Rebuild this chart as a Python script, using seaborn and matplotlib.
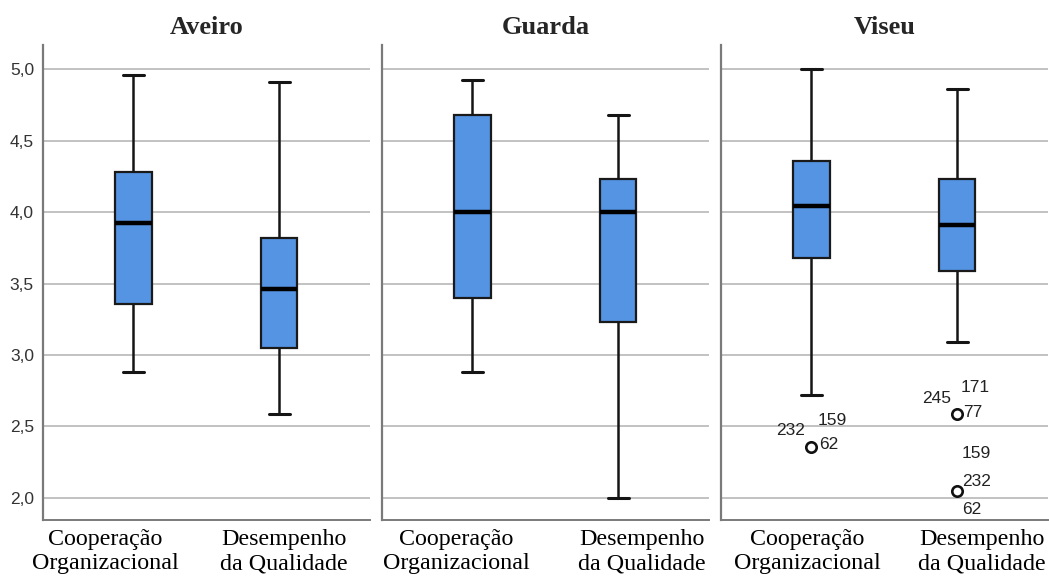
import numpy as np
import pandas as pd
import matplotlib
matplotlib.use("Agg")
import matplotlib.pyplot as plt
import seaborn as sns

# regiões e variáveis
regioes = ["Aveiro", "Guarda", "Viseu"]
variaveis = ["Cooperação\nOrganizacional", "Desempenho\nda Qualidade"]

# resumo de cinco números: [Cooperação, Desempenho]
bigode_inf = {"Aveiro": [2.88, 2.59], "Guarda": [2.88, 2.00], "Viseu": [2.72, 3.09]}
quartil_1 = {"Aveiro": [3.36, 3.05], "Guarda": [3.40, 3.23], "Viseu": [3.68, 3.59]}
mediana = {"Aveiro": [3.92, 3.46], "Guarda": [4.00, 4.00], "Viseu": [4.04, 3.91]}
quartil_3 = {"Aveiro": [4.28, 3.82], "Guarda": [4.68, 4.23], "Viseu": [4.36, 4.23]}
bigode_sup = {"Aveiro": [4.96, 4.91], "Guarda": [4.92, 4.68], "Viseu": [5.00, 4.86]}

# outliers (região, variável, valor, casos)
out_regiao = ["Viseu", "Viseu", "Viseu"]
out_var = [0, 1, 1]
out_valor = [2.36, 2.59, 2.05]
out_casos = [["232", "159", "62"], ["245", "171", "77"], ["159", "232", "62"]]

# posição dos rótulos dos casos (pixels)
rot_offsets = [
    [(-21, 16), (21, 26), (17, 2)],
    [(-21, 15), (18, 26), (16, 1)],
    [(19, 37), (19, 9), (15, -19)],
]
# deslocamento horizontal dos rótulos do eixo x em cada painel (pixels)
xlab_dx = [(-28, 5), (-16, 24), (-4, 25)]

# dados em formato longo com os mesmos quartis
linhas = []
for reg in regioes:
    for i, var in enumerate(variaveis):
        vals = [bigode_inf[reg][i], quartil_1[reg][i], quartil_1[reg][i],
                mediana[reg][i], mediana[reg][i], mediana[reg][i],
                quartil_3[reg][i], quartil_3[reg][i], bigode_sup[reg][i]]
        for v in vals:
            linhas.append({"regiao": reg, "variavel": var, "valor": v})
df = pd.DataFrame(linhas)

sns.set_style("white")
plt.rcParams["font.family"] = ["Liberation Sans", "DejaVu Sans"]

fig = plt.figure(figsize=(10.49, 5.79), dpi=100)
W, H = 1049, 579
lefts = [43, 382, 721]
largura = 327
cinza_grelha = "#bdbdbd"
cinza_eixo = "#7a7a7a"

for k, reg in enumerate(regioes):
    ax = fig.add_axes([lefts[k] / W, 1 - 520 / H, largura / W, 475 / H])
    sub = df[df["regiao"] == reg]
    sns.boxplot(data=sub, x="variavel", y="valor", order=variaveis, ax=ax,
                width=0.25, color="#5494e2", linecolor="#151515", linewidth=1.6,
                saturation=1, whis=1.5, showfliers=False,
                medianprops={"linewidth": 3.2, "color": "black"},
                whiskerprops={"linewidth": 1.8},
                capprops={"linewidth": 2.2},
                boxprops={"edgecolor": "#1a1a1a"},
                capwidths=0.143)
    # outliers
    for j in range(len(out_valor)):
        if out_regiao[j] != reg:
            continue
        ax.plot([out_var[j]], [out_valor[j]], marker="o", ms=7.5, mfc="white",
                mec="#111111", mew=1.9, linestyle="none", zorder=5)
        for caso, off in zip(out_casos[j], rot_offsets[j]):
            ax.annotate(caso, (out_var[j], out_valor[j]), xytext=off,
                        textcoords="offset pixels", ha="center", va="center",
                        fontsize=12.5, color="#222222")

    ax.set_xlim(-0.619, 1.623)
    ax.set_ylim(1.846, 5.168)
    ax.set_yticks([2.0, 2.5, 3.0, 3.5, 4.0, 4.5, 5.0])
    ax.yaxis.grid(True, color=cinza_grelha, linewidth=1.3)
    ax.set_axisbelow(True)
    ax.set_xlabel("")
    ax.set_ylabel("")
    for s in ["top", "right"]:
        ax.spines[s].set_visible(False)
    ax.spines["left"].set_color(cinza_eixo)
    ax.spines["left"].set_linewidth(1.6)
    ax.spines["bottom"].set_color(cinza_eixo)
    ax.spines["bottom"].set_linewidth(1.4)
    ax.tick_params(axis="both", length=0)
    ax.tick_params(axis="y", pad=6.5, labelsize=12.5, labelcolor="#333333")
    if k == 0:
        ax.set_yticklabels([f"{v:.1f}".replace(".", ",") for v in ax.get_yticks()])
    else:
        ax.set_yticklabels([])
    ax.set_xticks([0, 1])
    ax.set_xticklabels([])
    for i, var in enumerate(variaveis):
        ax.annotate(var, xy=(i, 0), xycoords=("data", "axes fraction"),
                    xytext=(xlab_dx[k][i], -9), textcoords="offset pixels",
                    ha="center", va="top", fontsize=17.3, family="Liberation Serif",
                    linespacing=1.2, color="black", annotation_clip=False)
    ax.set_title(reg, fontsize=19, fontweight="bold", family="Liberation Serif", pad=8)

fig.savefig("out.png", dpi=100)
